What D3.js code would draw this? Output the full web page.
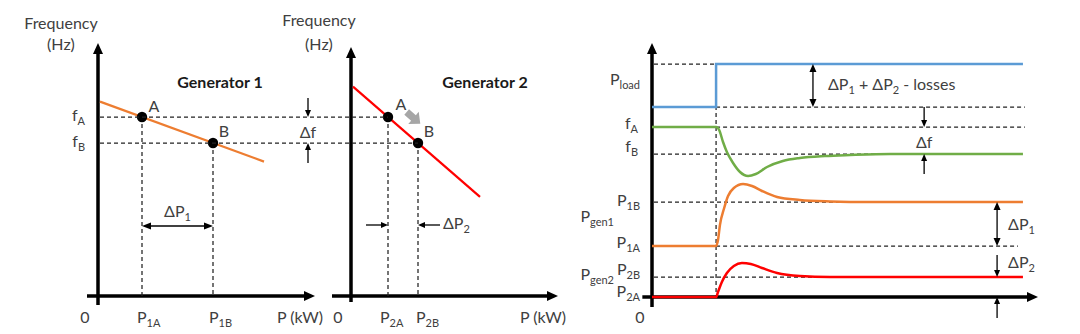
<!DOCTYPE html>
<html>
<head>
<meta charset="utf-8">
<script src="https://cdn.jsdelivr.net/npm/d3@7"></script>
<style>
  html, body { margin: 0; padding: 0; background: #fff; }
  svg text { font-family: Lato, "Open Sans", sans-serif; font-size: 16px; fill: #404040; }
</style>
</head>
<body>
<svg id="chart" width="1080" height="334"></svg>
<script>
// ---- droop characteristics (P in kW units, f in Hz units) ----
const pointNames = ["A", "B"];
const freqValues = [8.95, 7.65];            // fA, fB shared by both generators
const gen1Droop = [[0.1, 9.72], [8.3, 6.72]];
const gen1Power = [2.2, 5.75];              // P1A, P1B
const gen2Droop = [[0.1, 10.47], [6.45, 4.96]];
const gen2Power = [1.85, 3.35];             // P2A, P2B
const gen1Ticks = ["P_{1A}", "P_{1B}"];
const gen2Ticks = ["P_{2A}", "P_{2B}"];

// ---- time responses after the load step ----
const stepTime = 1.66;
const endTime = 9.61;
const loadSeries = [[0, 9.5], [1.66, 9.5], [1.66, 11.65], [9.61, 11.65]];
const freqSeries = [[0, 8.5], [1.66, 8.5], [1.74, 8.35], [1.84, 7.75], [1.94, 7.25], [2.10, 6.7],
  [2.28, 6.25], [2.49, 6.05], [2.69, 6.15], [2.98, 6.5], [3.39, 6.8], [3.83, 6.95], [4.48, 7.05],
  [5.13, 7.1], [6.17, 7.15], [9.61, 7.15]];
const gen1Series = [[0, 2.55], [1.66, 2.55], [1.71, 2.85], [1.76, 3.6], [1.87, 4.45], [1.97, 5.05],
  [2.12, 5.45], [2.36, 5.65], [2.59, 5.55], [2.85, 5.3], [3.24, 5.0], [3.83, 4.85], [4.61, 4.78],
  [5.65, 4.75], [9.61, 4.75]];
const gen2Series = [[0, 0], [1.66, 0], [1.71, 0.25], [1.81, 0.75], [1.94, 1.2], [2.12, 1.55],
  [2.33, 1.7], [2.56, 1.65], [2.85, 1.45], [3.24, 1.2], [3.83, 1.05], [4.61, 1.0], [9.61, 1.0]];
const loadLevels = [9.5, 11.65];
const freqLevels = [8.5, 7.15];
const gen1Levels = [2.55, 4.75];
const gen2Levels = [0, 1.0];

const C = { blue: "#5b9bd5", green: "#70ad47", orange: "#ed7d31", red: "#ff0000",
            ink: "#000", text: "#404040", dash: "#222", grayArrow: "#a6a6a6" };

const svg = d3.select("#chart");

// ---- scales ----
const fScale = d3.scaleLinear().domain([0, 10]).range([296, 96]);
const p1Scale = d3.scaleLinear().domain([0, 10]).range([98, 298]);
const p2Scale = d3.scaleLinear().domain([0, 10]).range([351, 551]);
const tScale = d3.scaleLinear().domain([0, 10]).range([652, 1038]);
const vScale = d3.scaleLinear().domain([0, 10]).range([297, 97]);

// ---- helpers ----
function label(g, x, y, str, anchor, extra) {
  const t = g.append("text").attr("x", x).attr("y", y).attr("text-anchor", anchor || "start");
  if (extra) extra(t);
  const parts = str.split(/(_\{[^}]*\})/).filter(s => s.length);
  let low = false;
  parts.forEach(p => {
    const sub = p.startsWith("_{");
    const s = t.append("tspan").text(sub ? p.slice(2, -1) : p);
    if (sub) { s.attr("font-size", 11); if (!low) { s.attr("dy", 4); low = true; } }
    else if (low) { s.attr("dy", -4); low = false; }
  });
  return t;
}

function head(g, x, y, ang, len, w, fill) {
  const a = ang, ca = Math.cos(a), sa = Math.sin(a);
  const bx = x - ca * len, by = y - sa * len;
  g.append("path")
    .attr("d", `M${x},${y}L${bx - sa * w / 2},${by + ca * w / 2}L${bx + sa * w / 2},${by - ca * w / 2}Z`)
    .attr("fill", fill || C.ink);
}

// line from (x1,y1) to (x2,y2) with optional heads at either end
function arrow(g, x1, y1, x2, y2, o) {
  o = Object.assign({ width: 1.3, len: 8, hw: 7, start: false, end: true, color: C.ink }, o);
  const ang = Math.atan2(y2 - y1, x2 - x1), ca = Math.cos(ang), sa = Math.sin(ang);
  const sx = o.start ? x1 + ca * (o.len - 1) : x1, sy = o.start ? y1 + sa * (o.len - 1) : y1;
  const ex = o.end ? x2 - ca * (o.len - 1) : x2, ey = o.end ? y2 - sa * (o.len - 1) : y2;
  g.append("line").attr("x1", sx).attr("y1", sy).attr("x2", ex).attr("y2", ey)
    .attr("stroke", o.color).attr("stroke-width", o.width);
  if (o.end) head(g, x2, y2, ang, o.len, o.hw, o.color);
  if (o.start) head(g, x1, y1, ang + Math.PI, o.len, o.hw, o.color);
}

function dashed(g, x1, y1, x2, y2) {
  g.append("line").attr("x1", x1).attr("y1", y1).attr("x2", x2).attr("y2", y2)
    .attr("stroke", C.dash).attr("stroke-width", 1.25).attr("stroke-dasharray", "4,3");
}

const axisStyle = { width: 3.5, len: 11, hw: 10 };

// ---- droop diagram drawing ----
function droopPanel(g, pScale, droop, power, ticks, title, opt) {
  // axes
  arrow(g, pScale(0), fScale(opt.yBottom), pScale(0), fScale(opt.yTop), axisStyle);
  arrow(g, pScale(opt.xLeft), fScale(0), pScale(opt.xRight), fScale(0), axisStyle);

  // vertical guides from operating points
  power.forEach((p, i) => dashed(g, pScale(p), fScale(freqValues[i]), pScale(p), fScale(0)));

  // droop line
  g.append("path").datum(droop)
    .attr("d", d3.line().x(d => pScale(d[0])).y(d => fScale(d[1])))
    .attr("stroke", opt.color).attr("stroke-width", 2.2).attr("fill", "none");

  // operating points
  g.selectAll("circle.op").data(power).join("circle")
    .attr("cx", d => pScale(d)).attr("cy", (d, i) => fScale(freqValues[i]))
    .attr("r", 5.2).attr("fill", C.ink);

  pointNames.forEach((n, i) => {
    label(g, pScale(power[i]) + opt.nameDx[i], fScale(freqValues[i]) + opt.nameDy[i], n, "middle");
  });

  // axis texts
  label(g, opt.freqX, opt.freqY, "Frequency", "middle");
  label(g, opt.freqX, 50, "(Hz)", "middle");
  label(g, pScale(0) - 13, 323, "0", "middle");
  ticks.forEach((t, i) => label(g, pScale(power[i]) + opt.tickDx[i], 323, t, "start"));
  label(g, pScale(opt.xRight) - 15, 323, "P (kW)", "middle");
  label(g, opt.titleX, 88, title, "middle", t => t.attr("font-weight", 700).style("fill", "#1a1a1a"));
}

const g1 = svg.append("g");
const g2 = svg.append("g");

// shared horizontal guides for fA and fB
freqValues.forEach((f, i) => dashed(svg, p1Scale(0) + 2, fScale(f), p2Scale(gen2Power[i]), fScale(f)));

droopPanel(g1, p1Scale, gen1Droop, gen1Power, gen1Ticks, "Generator 1", {
  color: C.orange, yBottom: -0.45, yTop: 12.65, xLeft: -0.55, xRight: 10.85,
  nameDx: [12, 11], nameDy: [-5, -6], tickDx: [-5, -4], freqX: 61, freqY: 29, titleX: 220
});
droopPanel(g2, p2Scale, gen2Droop, gen2Power, gen2Ticks, "Generator 2", {
  color: C.red, yBottom: -0.3, yTop: 12.45, xLeft: -0.95, xRight: 10.35,
  nameDx: [13, 11], nameDy: [-7, -6], tickDx: [-8, -2], freqX: 319, freqY: 26, titleX: 485
});

// fA / fB labels on the first panel
label(g1, 85, fScale(freqValues[0]) + 4, "f_{A}", "end");
label(g1, 85, fScale(freqValues[1]) + 4, "f_{B}", "end");

// Δf marker between the panels
const dfX = p1Scale(10.5);
arrow(g1, dfX, fScale(9.9), dfX, fScale(freqValues[0]), { len: 7, hw: 6 });
arrow(g1, dfX, fScale(6.65), dfX, fScale(freqValues[1]), { len: 7, hw: 6 });
label(g1, dfX, 138, "Δf", "middle");

// ΔP1 span
arrow(g1, p1Scale(gen1Power[0]), fScale(3.5), p1Scale(gen1Power[1]), fScale(3.5), { start: true, len: 9, hw: 7 });
label(g1, (p1Scale(gen1Power[0]) + p1Scale(gen1Power[1])) / 2, 217, "ΔP_{1}", "middle");

// ΔP2 span (arrows pointing inwards)
arrow(g2, p2Scale(0.75), fScale(3.55), p2Scale(gen2Power[0]), fScale(3.55), { len: 7, hw: 6 });
arrow(g2, p2Scale(4.45), fScale(3.55), p2Scale(gen2Power[1]), fScale(3.55), { len: 7, hw: 6 });
label(g2, p2Scale(4.45) + 3, 229, "ΔP_{2}", "start");

// movement from A to B along the droop line
(function () {
  const ax = p2Scale(gen2Power[0]), ay = fScale(freqValues[0]);
  const bx = p2Scale(gen2Power[1]), by = fScale(freqValues[1]);
  const ang = Math.atan2(by - ay, bx - ax);
  const nx = Math.sin(ang), ny = -Math.cos(ang);
  const cx = (ax + bx) / 2 + nx * 16, cy = (ay + by) / 2 + ny * 16;
  svg.append("path")
    .attr("d", "M-9,-3.6L0,-3.6L0,-8L9,0L0,8L0,3.6L-9,3.6Z")
    .attr("fill", C.grayArrow)
    .attr("transform", `translate(${cx},${cy}) rotate(${ang * 180 / Math.PI})`);
})();

// ---- time response panel ----
const g3 = svg.append("g");
const tx = tScale, vy = vScale;
const tRight = 9.66;

// guides
dashed(g3, tx(0) + 2, vy(loadLevels[1]), tx(stepTime), vy(loadLevels[1]));
dashed(g3, tx(stepTime), vy(loadLevels[0]), tx(tRight), vy(loadLevels[0]));
dashed(g3, tx(stepTime), vy(freqLevels[0]), tx(tRight), vy(freqLevels[0]));
dashed(g3, tx(0) + 2, vy(freqLevels[1]), tx(endTime), vy(freqLevels[1]));
dashed(g3, tx(0) + 2, vy(gen1Levels[1]), tx(endTime), vy(gen1Levels[1]));
dashed(g3, tx(stepTime), vy(gen1Levels[0]), tx(9.48), vy(gen1Levels[0]));
dashed(g3, tx(0) + 2, vy(gen2Levels[1]), tx(endTime), vy(gen2Levels[1]));
dashed(g3, tx(stepTime), vy(loadLevels[1]), tx(stepTime), vy(0));

// axes
arrow(g3, tx(0), vy(-0.5), tx(0), vy(12.7), axisStyle);
arrow(g3, tx(-0.25), vy(0), tx(10), vy(0), axisStyle);

const lineGen = d3.line().x(d => tx(d[0])).y(d => vy(d[1]));
const smoothGen = d3.line().x(d => tx(d[0])).y(d => vy(d[1])).curve(d3.curveMonotoneX);
g3.append("path").datum(loadSeries).attr("d", lineGen)
  .attr("fill", "none").attr("stroke", C.blue).attr("stroke-width", 2.5);
[[freqSeries, C.green], [gen1Series, C.orange], [gen2Series, C.red]].forEach(([s, c]) => {
  g3.append("path").datum(s).attr("d", smoothGen)
    .attr("fill", "none").attr("stroke", c).attr("stroke-width", 2.5);
});

// level labels
const lx = 640;
label(g3, lx, 85, "P_{load}", "end");
label(g3, lx - 2, vy(freqLevels[0]) + 2, "f_{A}", "end");
label(g3, lx - 2, vy(freqLevels[1]) - 2, "f_{B}", "end");
label(g3, lx, vy(gen1Levels[1]) + 4, "P_{1B}", "end");
label(g3, 614, 222, "P_{gen1}", "end");
label(g3, lx, vy(gen1Levels[0]) + 2, "P_{1A}", "end");
label(g3, 614, 280, "P_{gen2}", "end");
label(g3, lx, vy(gen2Levels[1]) - 2, "P_{2B}", "end");
label(g3, lx, vy(gen2Levels[0]), "P_{2A}", "end");
label(g3, tx(0) - 12, 323, "0", "middle");

// change annotations
const aLoad = 4.17, aF = 7.05, aP = 8.94;
arrow(g3, tx(aLoad), vy(loadLevels[1]), tx(aLoad), vy(loadLevels[0]), { start: true, len: 8, hw: 7 });
label(g3, tx(aLoad) + 15, 90, "ΔP_{1} + ΔP_{2} - losses", "start");
arrow(g3, tx(aF), vy(loadLevels[0]), tx(aF), vy(freqLevels[0]), { len: 7, hw: 6 });
arrow(g3, tx(aF), vy(6.15), tx(aF), vy(freqLevels[1]), { len: 7, hw: 6 });
label(g3, tx(aF), 148, "Δf", "middle");
arrow(g3, tx(aP), vy(gen1Levels[1]), tx(aP), vy(gen1Levels[0]), { start: true, len: 8, hw: 7 });
label(g3, tx(aP) + 11, 230, "ΔP_{1}", "start");
arrow(g3, tx(aP), vy(2.1), tx(aP), vy(gen2Levels[1]), { len: 7, hw: 6 });
arrow(g3, tx(aP), vy(-1.05), tx(aP), vy(gen2Levels[0]), { len: 7, hw: 6 });
label(g3, tx(aP) + 11, 268, "ΔP_{2}", "start");
</script>
</body>
</html>
